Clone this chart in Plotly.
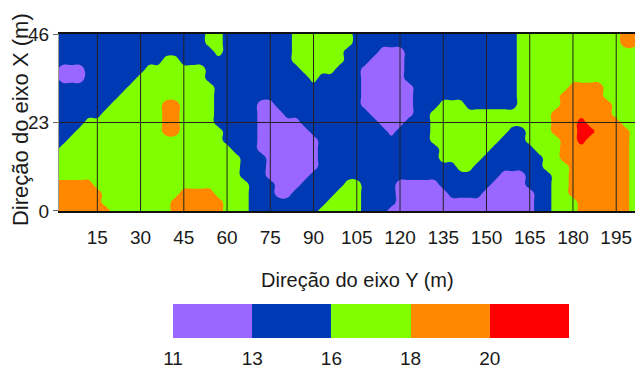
import re
import plotly.graph_objects as go

# ---------------- data ----------------
X_TICKS = [15, 30, 45, 60, 75, 90, 105, 120, 135, 150, 165, 180, 195]
Y_TICKS = [0, 23, 46]
Y_GRID = [23]
X_RANGE = [1.7, 203.6]
Y_RANGE = [0, 46]

# sampling grid of the map (metres)
GRID_X = [3 * i for i in range(69)]               # 0 .. 204
GRID_Y = [round(2.3 * j, 1) for j in range(21)]   # 0 .. 46

# zone read at every grid node, one run-length row per GRID_Y value (bottom row first)
ZONE_ROWS = [
    "7O 7G 6O 3G 8B 5G 3B 17P 2B 3G 6O 2G",
    "6O 8G 6O 3G 9B 4G 4B 16P 2B 3G 6O 2G",
    "6O 9G 4O 4G 3B 2P 5B 3G 4B 6P 4B 6P 2B 2G 7O 2G",
    "5O 18G 3B 3P 5B 2G 4B 5P 6B 4P 3B 2G 7O 2G",
    "22G 3B 5P 22B 3P 3B 2G 7O 2G",
    "22G 3B 6P 16B 2G 8B 3G 7O 2G",
    "22G 3B 6P 14B 5G 7B 2G 8O 2G",
    "1B 20G 3B 7P 14B 6G 5B 3G 8O 2G",
    "2B 18G 4B 7P 13B 8G 3B 4G 2O 1R 5O 2G",
    "3B 10G 2O 5G 4B 6P 9B 1P 4B 9G 2B 3G 3O 2R 4O 2G",
    "4B 9G 2O 4G 5B 5P 9B 3P 3B 14G 3O 1R 4O 3G",
    "6B 7G 2O 4G 5B 3P 10B 5P 2B 14G 7O 4G",
    "7B 6G 2O 4G 5B 2P 10B 6P 3B 3G 6B 5G 6O 4G",
    "8B 11G 17B 6P 12B 5G 5O 5G",
    "9B 10G 17B 6P 12B 6G 4O 5G",
    "1B 3P 6B 8G 12B 1G 5B 5P 13B 15G",
    "1B 3P 7B 7G 11B 4G 3B 5P 13B 15G",
    "13B 2G 13B 6G 3B 4P 13B 15G",
    "19B 1G 8B 6G 4B 3P 13B 15G",
    "18B 2G 8B 7G 19B 12G 2O 1G",
    "18B 2G 8B 7G 19B 12G 2O 1G",
]
# representative value of each zone (class limits 13, 16, 18, 20)
ZONE_VALUE = {"P": 11.5, "B": 14.5, "G": 17.5, "O": 18.5, "R": 21.5}

LEGEND_TICKS = [11, 13, 16, 18, 20]
LEGEND_COLORS = ["#9966FF", "#0039B4", "#80FF00", "#FF8800", "#FF0000"]

LEVEL_START, LEVEL_END, LEVEL_SIZE = 13, 20, 1

FONT = "Liberation Sans, Arial, sans-serif"
TEXT = "#1a1a1a"


def decode(row):
    vals = []
    for n, c in re.findall(r"(\d+)([A-Z])", row):
        vals += [ZONE_VALUE[c]] * int(n)
    assert len(vals) == len(GRID_X), (row, len(vals))
    return vals


Z = [decode(r) for r in ZONE_ROWS]

# colour scale for the filled contour bands: plotly maps the scale over
# [start - size/2, end + size/2]; each class boundary becomes a hard step
lo = LEVEL_START - LEVEL_SIZE / 2
hi = LEVEL_END + LEVEL_SIZE / 2
band_scale = [[0.0, LEGEND_COLORS[0]]]
for k, lim in enumerate(LEGEND_TICKS[1:]):
    f = (lim - lo) / (hi - lo)
    band_scale += [[f, LEGEND_COLORS[k]], [f, LEGEND_COLORS[k + 1]]]
band_scale.append([1.0, LEGEND_COLORS[-1]])

n = len(LEGEND_COLORS)
legend_scale = [[0.0, LEGEND_COLORS[0]]]
for k in range(1, n):
    f = (k - 0.5) / (n - 1)
    legend_scale += [[f, LEGEND_COLORS[k - 1]], [f, LEGEND_COLORS[k]]]
legend_scale.append([1.0, LEGEND_COLORS[-1]])

fig = go.Figure()

fig.add_trace(go.Contour(
    x=GRID_X, y=GRID_Y, z=Z,
    autocontour=False,
    contours=dict(start=LEVEL_START, end=LEVEL_END, size=LEVEL_SIZE,
                  coloring="fill", showlines=False),
    colorscale=band_scale, showscale=False,
    line=dict(smoothing=1.3, width=0),
    hoverinfo="skip",
))

# grid lines drawn over the map
gx, gy = [], []
for t in X_TICKS:
    gx += [t, t, None]
    gy += [Y_RANGE[0], Y_RANGE[1], None]
for t in Y_GRID:
    gx += [X_RANGE[0], X_RANGE[1], None]
    gy += [t, t, None]
fig.add_trace(go.Scatter(x=gx, y=gy, mode="lines",
                         line=dict(color="#222222", width=1),
                         hoverinfo="skip", showlegend=False))

# class legend as a strip of cells
fig.add_trace(go.Heatmap(
    z=[list(range(n))], x=list(range(n)), y=[0],
    xaxis="x2", yaxis="y2",
    colorscale=legend_scale, zmin=0, zmax=n - 1, showscale=False,
    hoverinfo="skip",
))

# the page adds an 8 px body margin, so the figure is 8 px smaller than the window
fig.update_layout(
    width=635, height=361,
    margin=dict(l=51, r=2, t=26, b=2, autoexpand=False),
    paper_bgcolor="white", plot_bgcolor="white",
    showlegend=False,
    font=dict(family=FONT, size=19, color=TEXT),
    xaxis=dict(domain=[0, 1], anchor="y", range=X_RANGE, automargin=False,
               tickvals=X_TICKS, ticks="outside", ticklen=8,
               tickcolor="rgba(0,0,0,0)",
               showgrid=False, zeroline=False,
               showline=True, mirror=True, linecolor="#111111", linewidth=1.5),
    yaxis=dict(domain=[0.4685, 1], anchor="x", range=Y_RANGE, automargin=False,
               tickvals=Y_TICKS, ticks="outside", ticklen=5, tickcolor="#666666",
               showgrid=False, zeroline=False,
               showline=True, linecolor="#999999", linewidth=1),
    xaxis2=dict(domain=[0.1959, 0.8763], anchor="y2", range=[-0.5001, n - 0.5],
                automargin=False,
                tickvals=[k - 0.5 for k in range(n)],
                ticktext=[str(v) for v in LEGEND_TICKS],
                ticks="outside", ticklen=3, tickcolor="rgba(0,0,0,0)",
                showgrid=False, zeroline=False, showline=False),
    yaxis2=dict(domain=[0.0871, 0.1892], anchor="x2", range=[-0.5, 0.5],
                visible=False),
    annotations=[
        dict(text="Direção do eixo Y (m)", xref="paper", yref="paper",
             x=0.5129, y=0.2613, xanchor="center", yanchor="middle",
             showarrow=False, font=dict(family=FONT, size=20, color=TEXT)),
        dict(text="Direção do eixo X (m)", xref="paper", yref="paper",
             x=-0.067, y=0.7417, xanchor="center", yanchor="middle",
             textangle=-90, showarrow=False,
             font=dict(family=FONT, size=22, color=TEXT)),
    ],
)

fig.write_html("out.html")
